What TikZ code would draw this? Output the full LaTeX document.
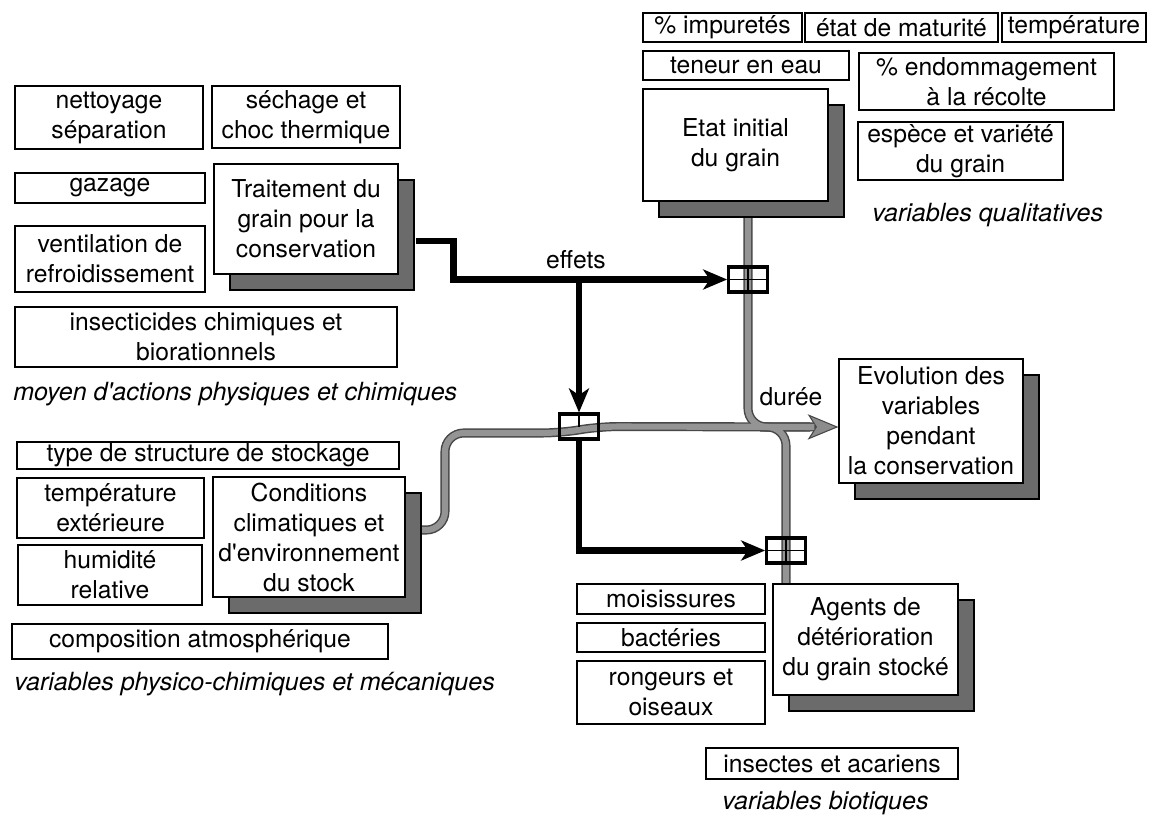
\documentclass[tikz,border=0pt]{standalone}
\usepackage{fontspec}
\newfontfamily\hf{TeX Gyre Heros}
\usetikzlibrary{arrows.meta,shadows}
\pgfdeclarelayer{bgzero}
\pgfdeclarelayer{bgone}
\pgfsetlayers{bgzero,bgone,main}
\newcommand\rbox[7][]{\node[box,#1,minimum width={(#5-#3)*0.75pt},minimum height={(#6-#4)*0.75pt}] (#2) at ({(#3+#5)/2},{(#4+#6)/2}) {#7};}
\tikzset{
 box/.style={draw, fill=white, line width=0.9pt, inner sep=0pt, align=center, font=\hf\fontsize{18.5}{22.5}\selectfont},
 sh/.style={general shadow={fill=black!58, draw=black, line width=0.9pt, shadow xshift=12pt, shadow yshift=-12pt}},
 lbl/.style={inner sep=0pt, font=\hf\fontsize{18.5}{22.5}\selectfont},
 ilbl/.style={inner sep=0pt, font=\hf\itshape\fontsize{18.8}{22.5}\selectfont},
 blk/.style={line width=4.8pt, -{Stealth[length=18pt,width=15pt,inset=5pt]}},
 gout/.style={line width=6.8pt, draw=black!72, rounded corners=14pt},
 gin/.style={line width=4.6pt, draw=black!42, rounded corners=14pt},
 jn/.style={draw, line width=2.3pt, inner sep=0pt, minimum width=29pt, minimum height=18.75pt},
 jl/.style={line width=1pt},
}
\begin{document}
\begin{tikzpicture}[x=0.75pt,y=-0.75pt]
\useasboundingbox (0,0) rectangle (1154,820);
\begin{pgfonlayer}{bgzero}
\fill[white] (0,0) rectangle (1154,820);
\end{pgfonlayer}
% top right
\rbox{imp}{643}{13}{802}{42}{\% impuretés}
\rbox{mat}{805}{13}{998}{42}{état de maturité}
\rbox{temp}{1002}{13}{1146}{42}{température}
\rbox{eau}{643}{51}{849}{80}{teneur en eau}
\rbox{endo}{859}{53}{1114}{110}{\% endommagement\\à la récolte}
\rbox[sh]{etat}{643}{89}{828}{201}{Etat initial\\du grain}
\rbox{esp}{858}{122}{1063}{180}{espèce et variété\\du grain}
% left top
\rbox{net}{15}{86}{203}{149}{nettoyage\\séparation}
\rbox{sech}{212}{86}{400}{148}{séchage et\\choc thermique}
\rbox{gaz}{15}{173}{205}{203}{gazage}
\rbox[sh]{trait}{214}{164}{398}{274}{Traitement du\\grain pour la\\conservation}
\rbox{vent}{15}{226}{205}{292}{ventilation de\\refroidissement}
\rbox{insec}{15}{307}{397}{367}{insecticides chimiques et\\biorationnels}
% left bottom
\rbox{typ}{17}{442}{399}{469}{type de structure de stockage}
\rbox{tex}{17}{478}{204}{538}{température\\extérieure}
\rbox{hum}{18}{545}{202}{605}{humidité\\relative}
\rbox[sh]{cond}{213}{477}{405}{597}{Conditions\\climatiques et\\d'environnement\\du stock}
\rbox{comp}{12}{624}{388}{659}{composition atmosphérique}
% right
\rbox[sh]{evo}{839}{359}{1023}{483}{Evolution des\\variables\\pendant\\la conservation}
\rbox{mois}{577}{584}{765}{614}{moisissures}
\rbox{bact}{577}{623}{765}{652}{bactéries}
\rbox{rong}{577}{661}{765}{724}{rongeurs et\\oiseaux}
\rbox[sh]{agents}{773}{584}{958}{695}{Agents de\\détérioration\\du grain stocké}
\rbox{insa}{706}{748}{958}{779}{insectes et acariens}
% labels
\node[lbl] (effets) at (576,260) {effets};
\node[lbl] (duree) at (791,397) {durée};
\node[ilbl, anchor=west] (lq) at (872,215) {variables qualitatives};
\node[ilbl, anchor=west] (lm) at (13,394) {moyen d'actions physiques et chimiques};
\node[ilbl, anchor=west] (lp) at (14,684) {variables physico-chimiques et mécaniques};
\node[ilbl, anchor=west] (lb) at (722,803) {variables biotiques};
% junctions
\node[jn] (j1) at (748,279.5) {};
\node[jn] (j2) at (579,426.5) {};
\node[jn] (j3) at (786,550.5) {};
\coordinate (m1) at (810,427);
\coordinate (m3) at (760,427);
\coordinate (c1) at (445,530);
\coordinate (c2) at (445,433);
\coordinate (c3) at (560,433);
% black connectors
\draw[blk] ([shift={(17,22)}]trait.east) -- ++(38,0) |- (j1.west);
\draw[blk] (j2.north |- j1.west) -- (j2.north);
\draw[blk] (j2.south) |- (j3.west);
\draw[jl] (j1.north) -- (j1.south);
\draw[jl] (j1.west) -- (j1.east);
\draw[jl] (j3.north) -- (j3.south);
\draw[jl] (j3.west) -- (j3.east);
\draw[jl] (j2.north) -- (j2.center);
% gray connectors
\begin{pgfonlayer}{bgone}
\draw[gout] (etat.center -| j1.center) |- (m1);
\draw[gout] (agents.center -| j3.center) |- (m3);
\draw[gout, -{Stealth[length=23pt,width=19pt,inset=6pt,fill=black!45,color=black!72,line width=0.8pt]}] ([yshift=5.25pt]cond.east) -- (c1) -- (c2) -- (c3) -- (j2.east) -- ([yshift=-4.5pt]evo.west);
\draw[gin] (etat.center -| j1.center) |- (m1);
\draw[gin] (agents.center -| j3.center) |- (m3);
\draw[gin, shorten >=18pt] ([yshift=5.25pt]cond.east) -- (c1) -- (c2) -- (c3) -- (j2.east) -- ([yshift=-4.5pt]evo.west);
\end{pgfonlayer}
\end{tikzpicture}
\end{document}
